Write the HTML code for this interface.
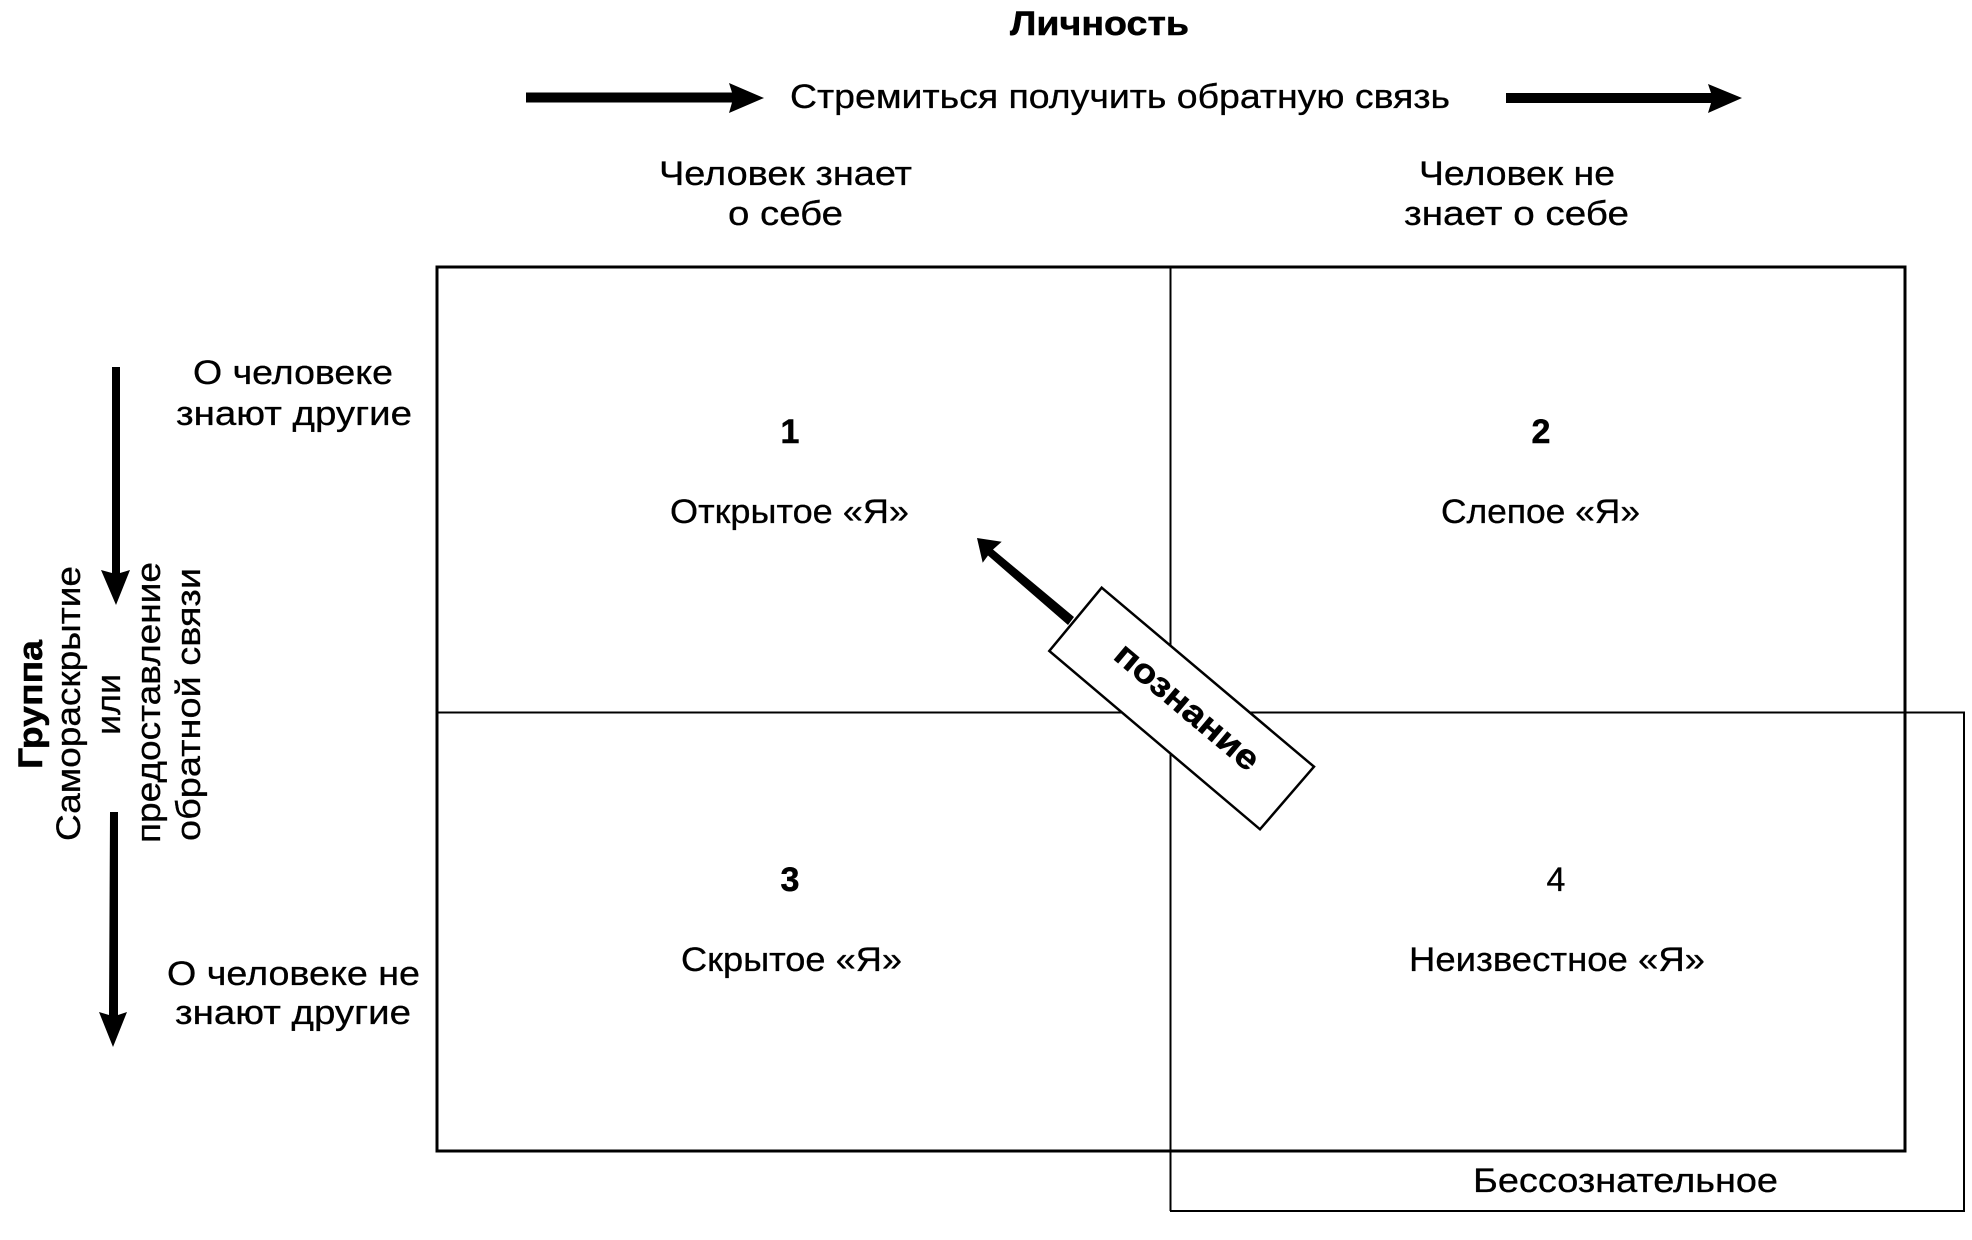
<!DOCTYPE html>
<html><head><meta charset="utf-8"><style>
html,body{margin:0;padding:0;background:#fff}
svg{display:block}
text{font-family:"Liberation Sans",sans-serif;font-size:34px;fill:#000;stroke:#000;stroke-width:.3px}
.b{font-weight:bold;stroke-width:.5px}
</style></head><body>
<svg width="1972" height="1240" viewBox="0 0 1972 1240" xmlns="http://www.w3.org/2000/svg">
<rect width="1972" height="1240" fill="#fff"/>
<!-- grid -->
<g fill="none" stroke="#000">
<path d="M437 267H1905V1151H437Z" stroke-width="3"/>
<path d="M1170.500 267V1211" stroke-width="2"/>
<path d="M437 712.500H1964V1211H1170" stroke-width="2"/>
</g>
<!-- arrows -->
<g fill="#000" stroke="none">
<path d="M526 92.500H732L729 83L764 98L729 113L732 102.500H526Z"/>
<path d="M1506 93H1711L1708 84L1742 98L1708 113L1711 103H1506Z"/>
<path d="M112 367H120V573L130 570L116 605L101 570L112 573Z"/>
<path d="M110 812H118V1015L127 1012L113 1047L99 1012L109 1015Z"/>
<path d="M977 538L1001.700 541.700L993 549.500L1074 617L1068 625L988 555.500L982.700 562.700Z"/>
</g>
<polygon points="1101.700,587.700 1314,766.700 1260,829.300 1049.300,651" fill="#fff" stroke="#000" stroke-width="2.500"/>
<!-- top labels -->
<text class="b" x="1010" y="35" textLength="179" lengthAdjust="spacingAndGlyphs">Личность</text>
<text x="790" y="108" textLength="660" lengthAdjust="spacingAndGlyphs">Стремиться получить обратную связь</text>
<text x="659" y="185" textLength="253" lengthAdjust="spacingAndGlyphs">Человек знает</text>
<text x="728" y="225" textLength="115" lengthAdjust="spacingAndGlyphs">о себе</text>
<text x="1419" y="185" textLength="196" lengthAdjust="spacingAndGlyphs">Человек не</text>
<text x="1404" y="225" textLength="225" lengthAdjust="spacingAndGlyphs">знает о себе</text>
<!-- left labels -->
<text x="193" y="384" textLength="200" lengthAdjust="spacingAndGlyphs">О человеке</text>
<text x="176" y="425" textLength="236" lengthAdjust="spacingAndGlyphs">знают другие</text>
<text x="167" y="985" textLength="253" lengthAdjust="spacingAndGlyphs">О человеке не</text>
<text x="175" y="1024" textLength="236" lengthAdjust="spacingAndGlyphs">знают другие</text>
<!-- vertical labels -->
<text class="b" transform="translate(42,769) rotate(-90)" textLength="129" lengthAdjust="spacingAndGlyphs">Группа</text>
<text transform="translate(80,841) rotate(-90)" textLength="275" lengthAdjust="spacingAndGlyphs">Самораскрытие</text>
<text transform="translate(120,735) rotate(-90)" textLength="61" lengthAdjust="spacingAndGlyphs">или</text>
<text transform="translate(160,843) rotate(-90)" textLength="281" lengthAdjust="spacingAndGlyphs">предоставление</text>
<text transform="translate(200,841) rotate(-90)" textLength="273" lengthAdjust="spacingAndGlyphs">обратной связи</text>
<!-- quadrants -->
<text class="b" x="790" y="443" text-anchor="middle">1</text>
<text x="670" y="523" textLength="239" lengthAdjust="spacingAndGlyphs">Открытое «Я»</text>
<text class="b" x="1541" y="443" text-anchor="middle">2</text>
<text x="1441" y="523" textLength="199" lengthAdjust="spacingAndGlyphs">Слепое «Я»</text>
<text class="b" x="790" y="891" text-anchor="middle">3</text>
<text x="681" y="971" textLength="221" lengthAdjust="spacingAndGlyphs">Скрытое «Я»</text>
<text x="1556" y="891" text-anchor="middle">4</text>
<text x="1409" y="971" textLength="296" lengthAdjust="spacingAndGlyphs">Неизвестное «Я»</text>
<text x="1473" y="1192" textLength="305" lengthAdjust="spacingAndGlyphs">Бессознательное</text>
<text class="b" transform="translate(1112,658) rotate(40.100)" textLength="178" lengthAdjust="spacingAndGlyphs">познание</text>
</svg>
</body></html>
